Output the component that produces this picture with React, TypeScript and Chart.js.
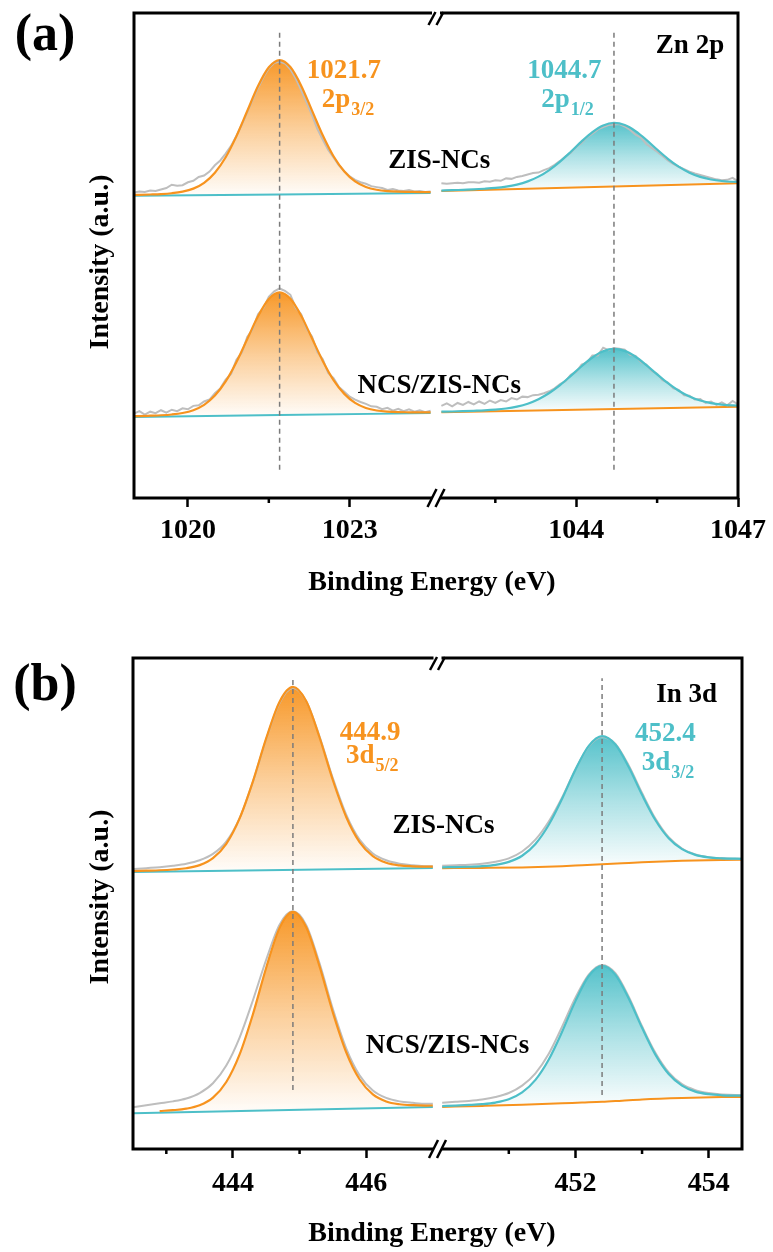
import React, { useEffect, useRef } from 'react';
import { Chart, registerables } from 'chart.js';

Chart.register(...registerables);

const W = 773;
const PANEL_H = 626;
const AXIS_H = 60;
const SERIF = "'Liberation Serif', 'Times New Roman', Times, serif";
const ORANGE = '#F7931E';
const ORANGE_RGB = '247,147,30';
const CYAN = '#4DBFC8';
const CYAN_RGB = '77,191,200';
const GREY = '#BEBEBE';
const DASH = '#7B7B7B';

/* ================= (a) Zn 2p ================= */
const A_RANGE_L = [1019.0, 1024.6];
const A_RANGE_R = [1041.4, 1047.0];
const A_MAJOR_L = [1020, 1023];
const A_MINOR_L = [1021.5];
const A_MAJOR_R = [1044, 1047];
const A_MINOR_R = [1042.5, 1045.5];
const A_PEAK_L = 1021.7;
const A_PEAK_R = 1044.7;
const A_DASH_Y_L = [5.8, 96.7];
const A_DASH_Y_R = [5.8, 96.7];

const A_FIT_X_L = [1018.9, 1019.1, 1019.3, 1019.5, 1019.7, 1019.9, 1020.1, 1020.3, 1020.5, 1020.7, 1020.9, 1021.1, 1021.3, 1021.5, 1021.7, 1021.9, 1022.1, 1022.3, 1022.5, 1022.7, 1022.9, 1023.1, 1023.3, 1023.5, 1023.7, 1023.9, 1024.1, 1024.3, 1024.5];
const A_UP_FIT_L = [62.47, 62.51, 62.58, 62.67, 62.84, 63.16, 63.79, 64.98, 67.06, 70.25, 74.61, 79.79, 84.93, 88.8, 90.29, 88.85, 85.02, 79.92, 74.78, 70.46, 67.33, 65.29, 64.14, 63.55, 63.27, 63.15, 63.11, 63.08, 63.08];
const A_LO_FIT_L = [16.85, 16.89, 16.97, 17.06, 17.22, 17.52, 18.11, 19.21, 21.12, 24.03, 28.04, 32.76, 37.47, 41.02, 42.39, 41.08, 37.59, 32.94, 28.27, 24.32, 21.47, 19.61, 18.57, 18.04, 17.8, 17.7, 17.67, 17.65, 17.66];

const A_FIT_X_R = [1041.5, 1041.7, 1041.9, 1042.1, 1042.3, 1042.5, 1042.7, 1042.9, 1043.1, 1043.3, 1043.5, 1043.7, 1043.9, 1044.1, 1044.3, 1044.5, 1044.7, 1044.9, 1045.1, 1045.3, 1045.5, 1045.7, 1045.9, 1046.1, 1046.3, 1046.5, 1046.7, 1046.9, 1047.1];
const A_UP_FIT_R = [63.39, 63.46, 63.55, 63.63, 63.76, 63.93, 64.2, 64.62, 65.28, 66.26, 67.62, 69.36, 71.39, 73.52, 75.43, 76.8, 77.33, 76.92, 75.66, 73.87, 71.85, 69.94, 68.32, 67.08, 66.21, 65.67, 65.36, 65.21, 65.16];
const A_LO_FIT_R = [17.79, 17.84, 17.9, 17.98, 18.07, 18.22, 18.46, 18.85, 19.45, 20.37, 21.64, 23.27, 25.18, 27.17, 28.97, 30.25, 30.74, 30.33, 29.13, 27.41, 25.5, 23.67, 22.12, 20.93, 20.09, 19.57, 19.26, 19.1, 19.03];

const A_BG_X_L = [1018.9, 1024.5];
const A_UP_BG_L = [62.29, 62.9];
const A_LO_BG_L = [16.69, 17.5];
const A_BG_X_R = [1041.5, 1047.1];
const A_UP_BG_R = [63.3, 64.93];
const A_LO_BG_R = [17.7, 18.82];

const A_RAW_X_L = [1019.0, 1019.1, 1019.2, 1019.3, 1019.4, 1019.5, 1019.6, 1019.7, 1019.8, 1019.9, 1020.0, 1020.1, 1020.2, 1020.3, 1020.4, 1020.5, 1020.6, 1020.7, 1020.8, 1020.9, 1021.0, 1021.1, 1021.2, 1021.3, 1021.4, 1021.5, 1021.6, 1021.7, 1021.8, 1021.9, 1022.0, 1022.1, 1022.2, 1022.3, 1022.4, 1022.5, 1022.6, 1022.7, 1022.8, 1022.9, 1023.0, 1023.1, 1023.2, 1023.3, 1023.4, 1023.5, 1023.6, 1023.7, 1023.8, 1023.9, 1024.0, 1024.1, 1024.2, 1024.3, 1024.4, 1024.5];
const A_UP_RAW_L = [63.0, 63.2, 63.1, 63.4, 63.3, 63.6, 63.9, 64.6, 64.4, 64.5, 65.1, 65.4, 66.2, 66.5, 67.3, 68.6, 69.6, 71.0, 72.6, 74.7, 77.0, 79.5, 82.1, 84.6, 86.8, 88.6, 89.7, 90.0, 89.6, 88.4, 86.5, 84.1, 81.6, 79.0, 76.1, 73.9, 71.8, 70.2, 68.6, 67.4, 66.3, 65.6, 65.1, 64.8, 64.3, 64.1, 63.9, 63.5, 63.7, 63.4, 63.3, 63.5, 63.2, 63.3, 63.1, 63.2];
const A_LO_RAW_L = [17.4, 17.9, 17.2, 17.8, 17.5, 18.1, 17.6, 18.2, 17.9, 18.5, 18.3, 19.0, 19.1, 19.9, 20.3, 21.6, 22.6, 24.4, 25.6, 28.5, 30.0, 33.2, 34.8, 37.9, 39.2, 41.5, 42.6, 43.2, 42.7, 41.9, 39.2, 37.9, 34.9, 33.3, 30.1, 28.6, 25.8, 24.7, 22.9, 21.9, 20.9, 20.3, 19.8, 19.4, 18.9, 18.8, 18.3, 18.6, 18.0, 18.4, 17.9, 18.3, 17.8, 18.1, 17.7, 18.0];
const A_RAW_X_R = [1041.5, 1041.6, 1041.7, 1041.8, 1041.9, 1042.0, 1042.1, 1042.2, 1042.3, 1042.4, 1042.5, 1042.6, 1042.7, 1042.8, 1042.9, 1043.0, 1043.1, 1043.2, 1043.3, 1043.4, 1043.5, 1043.6, 1043.7, 1043.8, 1043.9, 1044.0, 1044.1, 1044.2, 1044.3, 1044.4, 1044.5, 1044.6, 1044.7, 1044.8, 1044.9, 1045.0, 1045.1, 1045.2, 1045.3, 1045.4, 1045.5, 1045.6, 1045.7, 1045.8, 1045.9, 1046.0, 1046.1, 1046.2, 1046.3, 1046.4, 1046.5, 1046.6, 1046.7, 1046.8, 1046.9, 1047.0];
const A_UP_RAW_R = [64.9, 64.8, 64.9, 65.0, 64.9, 65.1, 65.1, 65.0, 65.3, 65.2, 65.5, 65.4, 65.9, 65.8, 66.2, 66.4, 66.7, 67.0, 67.1, 67.6, 68.0, 68.7, 69.5, 70.4, 71.2, 72.4, 73.2, 74.4, 75.1, 76.0, 76.5, 76.9, 77.0, 77.1, 76.6, 75.9, 74.9, 74.3, 73.0, 72.2, 71.4, 70.5, 69.6, 68.9, 68.3, 67.8, 67.3, 66.9, 66.6, 66.3, 66.0, 65.7, 65.5, 65.6, 66.0, 65.3];
const A_LO_RAW_R = [19.0, 19.5, 18.9, 19.6, 19.2, 19.8, 19.3, 19.9, 19.4, 20.1, 19.6, 20.2, 19.9, 20.6, 20.3, 20.9, 20.8, 21.2, 21.3, 21.6, 22.0, 22.6, 23.5, 24.1, 25.4, 26.0, 27.5, 27.9, 29.4, 29.4, 31.0, 30.5, 30.9, 30.8, 30.6, 29.5, 29.3, 28.0, 27.5, 26.2, 25.6, 24.3, 23.8, 22.6, 22.3, 21.2, 21.1, 20.3, 20.4, 19.6, 19.9, 19.2, 19.7, 19.1, 20.0, 19.3];

const A_LABELS = [
  { axis: 'xL', x: 1022.89, y: 86.6, text: '1021.7', color: ORANGE },
  { axis: 'xL', x: 1022.97, y: 80.6, text: '2p', sub: '3/2', color: ORANGE },
  { axis: 'xR', x: 1043.78, y: 86.6, text: '1044.7', color: CYAN },
  { axis: 'xR', x: 1043.84, y: 80.6, text: '2p', sub: '1/2', color: CYAN },
  { axis: 'xR', x: 1046.11, y: 91.8, text: 'Zn 2p', color: '#000' },
  { axis: 'xR', x: 1041.46, y: 68.0, text: 'ZIS-NCs', color: '#000' },
  { axis: 'xR', x: 1041.46, y: 21.6, text: 'NCS/ZIS-NCs', color: '#000' },
];

/* ================= (b) In 3d ================= */
const B_RANGE_L = [442.5, 447.07];
const B_RANGE_R = [449.93, 454.5];
const B_MAJOR_L = [444, 446];
const B_MINOR_L = [443, 445];
const B_MAJOR_R = [452, 454];
const B_MINOR_R = [451, 453];
const B_PEAK_L = 444.9;
const B_PEAK_R = 452.4;
const B_DASH_Y_L = [12.0, 95.9];
const B_DASH_Y_R = [11.0, 95.9];

const B_FIT_X_L = [442.5, 442.7, 442.9, 443.1, 443.3, 443.5, 443.7, 443.9, 444.1, 444.3, 444.5, 444.7, 444.9, 445.1, 445.3, 445.5, 445.7, 445.9, 446.1, 446.3, 446.5, 446.7, 446.9, 447.0];
const B_UP_FIT_L = [56.61, 56.69, 56.77, 56.92, 57.18, 57.81, 59.23, 62.15, 67.33, 74.88, 83.67, 91.11, 94.1, 91.18, 83.81, 75.1, 67.62, 62.51, 59.66, 58.31, 57.76, 57.57, 57.49, 57.49];
const B_LO_FIT_L = [null, null, 7.73, 7.91, 8.22, 8.91, 10.46, 13.64, 19.26, 27.45, 36.97, 45.04, 48.3, 45.15, 37.19, 27.79, 19.71, 14.2, 11.13, 9.69, 9.12, 8.92, 8.85, 8.86];
const B_UP_RAW_L = [57.0, 57.2, 57.4, 57.7, 58.1, 58.8, 60.1, 62.6, 67.4, 74.8, 83.5, 90.9, 93.9, 91.2, 84.0, 75.5, 68.1, 63.0, 60.2, 58.8, 58.1, 57.8, 57.6, 57.6];
const B_LO_RAW_L = [8.5, 8.9, 9.3, 9.7, 10.3, 11.4, 13.4, 17.0, 22.7, 30.3, 38.6, 45.7, 48.4, 45.6, 37.8, 28.5, 20.5, 15.0, 11.9, 10.4, 9.7, 9.4, 9.2, 9.2];

const B_FIT_X_R = [450.0, 450.2, 450.4, 450.6, 450.8, 451.0, 451.2, 451.4, 451.6, 451.8, 452.0, 452.2, 452.4, 452.6, 452.8, 453.0, 453.2, 453.4, 453.6, 453.8, 454.0, 454.2, 454.4, 454.6];
const B_UP_FIT_R = [57.36, 57.42, 57.48, 57.6, 57.87, 58.47, 59.72, 62.12, 66.03, 71.33, 77.25, 82.11, 84.1, 82.37, 77.79, 72.13, 67.01, 63.29, 61.07, 59.9, 59.39, 59.2, 59.12, 59.1];
const B_LO_FIT_R = [8.74, 8.84, 8.97, 9.14, 9.46, 10.12, 11.51, 14.08, 18.23, 23.88, 30.12, 35.23, 37.3, 35.5, 30.65, 24.68, 19.23, 15.28, 12.91, 11.69, 11.16, 10.94, 10.87, 10.83];
const B_UP_RAW_R = [57.7, 57.8, 57.9, 58.1, 58.5, 59.2, 60.6, 63.0, 66.7, 71.6, 77.3, 82.0, 83.9, 82.5, 78.1, 72.5, 67.3, 63.5, 61.2, 60.0, 59.4, 59.2, 59.1, 59.1];
const B_LO_RAW_R = [9.4, 9.6, 9.8, 10.1, 10.6, 11.4, 12.9, 15.4, 19.4, 24.9, 30.8, 35.5, 37.5, 35.8, 31.0, 25.0, 19.6, 15.6, 13.2, 12.0, 11.4, 11.1, 11.0, 11.0];

const B_BG_X_L = [442.5, 447.0];
const B_UP_BG_L = [56.4, 57.21];
const B_LO_BG_L = [7.3, 8.56];
const B_BG_X_R = [450.0, 450.6, 451.2, 451.8, 452.1, 452.4, 452.7, 453.0, 453.6, 454.2, 454.6];
const B_UP_BG_R = [57.2, 57.25, 57.35, 57.6, 57.8, 58.0, 58.2, 58.4, 58.7, 58.85, 58.9];
const B_LO_BG_R = [8.57, 8.77, 9.0, 9.3, 9.45, 9.6, 9.85, 10.1, 10.4, 10.57, 10.62];

const B_LABELS = [
  { axis: 'xL', x: 446.06, y: 83.3, text: '444.9', color: ORANGE },
  { axis: 'xL', x: 446.09, y: 78.6, text: '3d', sub: '5/2', color: ORANGE },
  { axis: 'xR', x: 453.35, y: 83.1, text: '452.4', color: CYAN },
  { axis: 'xR', x: 453.39, y: 77.2, text: '3d', sub: '3/2', color: CYAN },
  { axis: 'xR', x: 453.67, y: 91.0, text: 'In 3d', color: '#000' },
  { axis: 'xR', x: 450.02, y: 64.4, text: 'ZIS-NCs', color: '#000' },
  { axis: 'xR', x: 450.08, y: 19.6, text: 'NCS/ZIS-NCs', color: '#000' },
];

/* ================= panel specs ================= */
const PANEL_A = {
  letter: '(a)', letterY: 37,
  pad: { left: 134, right: 35, top: 13, bottom: PANEL_H - 498 - AXIS_H }, tickPad: 7,
  yTitleX: 108, yTitleY: 262, xTitleX: 432, xTitleDy: 92,
  rangeL: A_RANGE_L, rangeR: A_RANGE_R,
  majorL: A_MAJOR_L, minorL: A_MINOR_L, majorR: A_MAJOR_R, minorR: A_MINOR_R,
  peakL: A_PEAK_L, peakR: A_PEAK_R, dashYL: A_DASH_Y_L, dashYR: A_DASH_Y_R,
  fitXL: A_FIT_X_L, fitXR: A_FIT_X_R,
  upFitL: A_UP_FIT_L, loFitL: A_LO_FIT_L, upFitR: A_UP_FIT_R, loFitR: A_LO_FIT_R,
  bgXL: A_BG_X_L, bgXR: A_BG_X_R,
  upBgL: A_UP_BG_L, loBgL: A_LO_BG_L, upBgR: A_UP_BG_R, loBgR: A_LO_BG_R,
  rawXL: A_RAW_X_L, rawXR: A_RAW_X_R,
  upRawL: A_UP_RAW_L, loRawL: A_LO_RAW_L, upRawR: A_UP_RAW_R, loRawR: A_LO_RAW_R,
  rawSmooth: false,
  labels: A_LABELS,
};

const PANEL_B = {
  letter: '(b)', letterY: 61,
  pad: { left: 133, right: 31, top: 32, bottom: PANEL_H - 523 - AXIS_H }, tickPad: 9,
  yTitleX: 108, yTitleY: 271, xTitleX: 432, xTitleDy: 92,
  rangeL: B_RANGE_L, rangeR: B_RANGE_R,
  majorL: B_MAJOR_L, minorL: B_MINOR_L, majorR: B_MAJOR_R, minorR: B_MINOR_R,
  peakL: B_PEAK_L, peakR: B_PEAK_R, dashYL: B_DASH_Y_L, dashYR: B_DASH_Y_R,
  fitXL: B_FIT_X_L, fitXR: B_FIT_X_R,
  upFitL: B_UP_FIT_L, loFitL: B_LO_FIT_L, upFitR: B_UP_FIT_R, loFitR: B_LO_FIT_R,
  bgXL: B_BG_X_L, bgXR: B_BG_X_R,
  upBgL: B_UP_BG_L, loBgL: B_LO_BG_L, upBgR: B_UP_BG_R, loBgR: B_LO_BG_R,
  rawXL: B_FIT_X_L, rawXR: B_FIT_X_R,
  upRawL: B_UP_RAW_L, loRawL: B_LO_RAW_L, upRawR: B_UP_RAW_R, loRawR: B_LO_RAW_R,
  rawSmooth: true,
  labels: B_LABELS,
};

/* ================= helpers ================= */
function pts(xs: number[], ys: (number | null)[]) {
  const out: { x: number; y: number }[] = [];
  for (let i = 0; i < xs.length; i++) {
    const v = ys[i];
    if (v !== null && v !== undefined) out.push({ x: xs[i], y: v as number });
  }
  return out;
}

function gradient(rgb: string, topVal: number, baseVal: number) {
  return (c: any) => {
    const chart = c.chart;
    const ys = chart.scales && chart.scales.y;
    if (!chart.chartArea || !ys) return `rgba(${rgb},0.4)`;
    const y0 = ys.getPixelForValue(topVal);
    const y1 = ys.getPixelForValue(baseVal);
    const g = chart.ctx.createLinearGradient(0, y0, 0, y1);
    g.addColorStop(0, `rgba(${rgb},0.95)`);
    g.addColorStop(0.5, `rgba(${rgb},0.45)`);
    g.addColorStop(1, `rgba(${rgb},0.02)`);
    return g;
  };
}

function lineDs(data: any[], axis: string, color: string, width: number, extra: any = {}) {
  return {
    data,
    xAxisID: axis,
    yAxisID: 'y',
    borderColor: color,
    borderWidth: width,
    pointRadius: 0,
    pointHoverRadius: 0,
    fill: false,
    cubicInterpolationMode: 'monotone',
    ...extra,
  };
}

function fitDs(xs: number[], ys: (number | null)[], axis: string, color: string, rgb: string, bg: number[], target: number) {
  const vals = ys.filter((v) => v !== null) as number[];
  return lineDs(pts(xs, ys), axis, color, 2.2, {
    fill: target,
    backgroundColor: gradient(rgb, Math.max(...vals), Math.min(...bg)),
  });
}

function rawDs(xs: number[], ys: number[], axis: string, smooth: boolean) {
  return lineDs(pts(xs, ys), axis, GREY, 2, smooth ? {} : { cubicInterpolationMode: 'default', tension: 0 });
}

function buildDatasets(p: any) {
  const straight = { cubicInterpolationMode: 'default', tension: 0 };
  return [
    lineDs(pts([p.peakL, p.peakL], p.dashYL), 'xL', DASH, 1.5, { ...straight, borderDash: [5, 4] }),
    lineDs(pts([p.peakR, p.peakR], p.dashYR), 'xR', DASH, 1.5, { ...straight, borderDash: [5, 4] }),
    fitDs(p.fitXL, p.upFitL, 'xL', ORANGE, ORANGE_RGB, p.upBgL, 10),
    fitDs(p.fitXR, p.upFitR, 'xR', CYAN, CYAN_RGB, p.upBgR, 11),
    fitDs(p.fitXL, p.loFitL, 'xL', ORANGE, ORANGE_RGB, p.loBgL, 12),
    fitDs(p.fitXR, p.loFitR, 'xR', CYAN, CYAN_RGB, p.loBgR, 13),
    rawDs(p.rawXL, p.upRawL, 'xL', p.rawSmooth),
    rawDs(p.rawXR, p.upRawR, 'xR', p.rawSmooth),
    rawDs(p.rawXL, p.loRawL, 'xL', p.rawSmooth),
    rawDs(p.rawXR, p.loRawR, 'xR', p.rawSmooth),
    lineDs(pts(p.bgXL, p.upBgL), 'xL', CYAN, 2),
    lineDs(pts(p.bgXR, p.upBgR), 'xR', ORANGE, 2),
    lineDs(pts(p.bgXL, p.loBgL), 'xL', CYAN, 2),
    lineDs(pts(p.bgXR, p.loBgR), 'xR', ORANGE, 2),
  ];
}

function xScale(range: number[], major: number[], weight: number, tickPad: number) {
  return {
    type: 'linear',
    position: 'bottom',
    stack: 'energy',
    stackWeight: 1,
    weight,
    min: range[0],
    max: range[1],
    offset: false,
    border: { display: false },
    grid: { display: true, drawOnChartArea: false, drawTicks: true, tickLength: 9, tickWidth: 2.5, tickColor: '#000' },
    ticks: {
      autoSkip: false,
      maxRotation: 0,
      minRotation: 0,
      padding: tickPad,
      color: '#000',
      font: { family: SERIF, size: 28, weight: 'bold' },
      callback: (v: any) => String(v),
    },
    afterBuildTicks: (s: any) => {
      s.ticks = major.map((v) => ({ value: v }));
    },
    afterFit: (s: any) => {
      s.height = AXIS_H;
    },
  };
}

function makeDecor(p: any) {
  return {
    id: 'decor',
    afterDraw(chart: any) {
      const ctx = chart.ctx;
      const { left, right, top, bottom } = chart.chartArea;
      const xL = chart.scales.xL;
      const xR = chart.scales.xR;
      const ys = chart.scales.y;
      ctx.save();
      ctx.strokeStyle = '#000';
      ctx.lineCap = 'butt';
      // minor ticks
      ctx.lineWidth = 2.5;
      const minor = (scale: any, vals: number[]) => {
        for (const v of vals) {
          const px = scale.getPixelForValue(v);
          ctx.beginPath();
          ctx.moveTo(px, bottom);
          ctx.lineTo(px, bottom + 5);
          ctx.stroke();
        }
      };
      minor(xL, p.minorL);
      minor(xR, p.minorR);
      // frame
      ctx.lineWidth = 3;
      ctx.strokeRect(left, top, right - left, bottom - top);
      // axis break marks
      const bx = xL.right;
      ctx.fillStyle = '#fff';
      ctx.fillRect(bx - 4, bottom - 3, 8, 6);
      ctx.fillRect(bx - 4, top - 3, 8, 6);
      ctx.lineWidth = 2.5;
      for (const c of [bx - 4, bx + 4]) {
        ctx.beginPath();
        ctx.moveTo(c - 4.5, bottom + 9);
        ctx.lineTo(c + 4.5, bottom - 9);
        ctx.stroke();
        ctx.beginPath();
        ctx.moveTo(c - 3.5, top + 12);
        ctx.lineTo(c + 3.5, top - 1);
        ctx.stroke();
      }
      // annotations
      ctx.textBaseline = 'alphabetic';
      ctx.textAlign = 'left';
      const fMain = `bold 27px ${SERIF}`;
      const fSub = `bold 18px ${SERIF}`;
      for (const l of p.labels) {
        const sc = l.axis === 'xL' ? xL : xR;
        ctx.font = fMain;
        const wm = ctx.measureText(l.text).width;
        let ws = 0;
        if (l.sub) {
          ctx.font = fSub;
          ws = ctx.measureText(l.sub).width + 1;
        }
        const x0 = sc.getPixelForValue(l.x) - (wm + ws) / 2;
        const y0 = ys.getPixelForValue(l.y);
        ctx.fillStyle = l.color;
        ctx.font = fMain;
        ctx.fillText(l.text, x0, y0);
        if (l.sub) {
          ctx.font = fSub;
          ctx.fillText(l.sub, x0 + wm + 1, y0 + 8);
        }
      }
      // axis titles
      ctx.fillStyle = '#000';
      ctx.font = `bold 28px ${SERIF}`;
      ctx.textAlign = 'center';
      ctx.fillText('Binding Energy (eV)', p.xTitleX, bottom + p.xTitleDy);
      ctx.save();
      ctx.translate(p.yTitleX, p.yTitleY);
      ctx.rotate(-Math.PI / 2);
      ctx.fillText('Intensity (a.u.)', 0, 0);
      ctx.restore();
      // panel letter
      ctx.font = `bold 52px ${SERIF}`;
      ctx.textBaseline = 'middle';
      ctx.fillText(p.letter, 45, p.letterY);
      ctx.restore();
    },
  };
}

function makeConfig(p: any): any {
  return {
    type: 'line',
    data: { datasets: buildDatasets(p) },
    options: {
      responsive: false,
      animation: false,
      devicePixelRatio: 1,
      events: [],
      layout: { padding: p.pad },
      plugins: {
        legend: { display: false },
        tooltip: { enabled: false },
        filler: { drawTime: 'beforeDatasetsDraw' },
      },
      scales: {
        xL: xScale(p.rangeL, p.majorL, 1, p.tickPad),
        xR: xScale(p.rangeR, p.majorR, 2, p.tickPad),
        y: { type: 'linear', display: false, min: 0, max: 100 },
      },
    },
    plugins: [makeDecor(p)],
  };
}

function PanelChart({ spec, top }: { spec: any; top: number }) {
  const ref = useRef<HTMLCanvasElement | null>(null);
  useEffect(() => {
    if (!ref.current) return;
    const chart = new Chart(ref.current, makeConfig(spec));
    return () => chart.destroy();
  }, [spec]);
  return (
    <canvas
      ref={ref}
      width={W}
      height={PANEL_H}
      style={{ position: 'absolute', left: 0, top, width: W, height: PANEL_H, display: 'block' }}
    />
  );
}

export default function App() {
  return (
    <div style={{ position: 'absolute', left: 0, top: 0, width: W, height: PANEL_H * 2, background: '#fff' }}>
      <PanelChart spec={PANEL_A} top={0} />
      <PanelChart spec={PANEL_B} top={PANEL_H} />
    </div>
  );
}
